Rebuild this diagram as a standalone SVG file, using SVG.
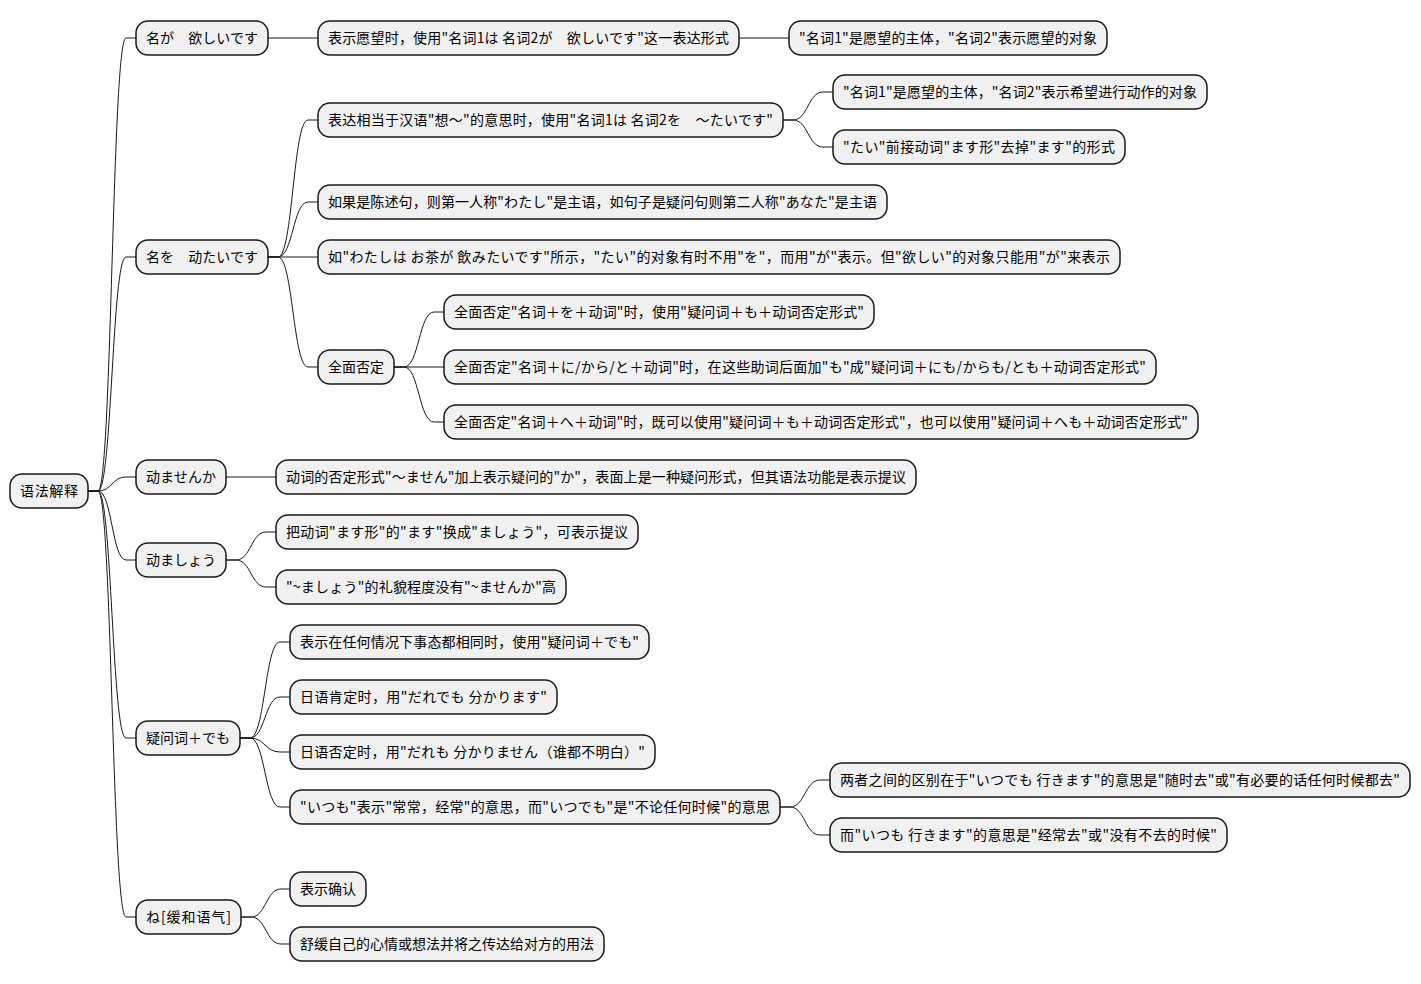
<svg xmlns="http://www.w3.org/2000/svg" width="1421" height="984" viewBox="0 0 1421 984">
<style>
rect.n{fill:#F1F1F1;stroke:#181818;stroke-width:1.5;}
text{font-family:"Noto Sans CJK SC","Microsoft YaHei",sans-serif;font-size:14px;fill:#000;}
#edges path{fill:none;stroke:#181818;stroke-width:1;}
</style>
<rect width="1421" height="984" fill="#FFFFFF"/>
<g id="edges">
<path d="M88 491 L98 491 C112 491 112 38 126 38 L136 38"/>
<path d="M88 491 L98 491 C112 491 112 257 126 257 L136 257"/>
<path d="M88 491 L98 491 C112 491 112 477 126 477 L136 477"/>
<path d="M88 491 L98 491 C112 491 112 560 126 560 L136 560"/>
<path d="M88 491 L98 491 C112 491 112 738 126 738 L136 738"/>
<path d="M88 491 L98 491 C112 491 112 917 126 917 L136 917"/>
<path d="M268 38 L318 38"/>
<path d="M739 38 L789 38"/>
<path d="M268 257 L278 257 C293 257 293 120 308 120 L318 120"/>
<path d="M268 257 L278 257 C293 257 293 202 308 202 L318 202"/>
<path d="M268 257 L318 257"/>
<path d="M268 257 L278 257 C293 257 293 367 308 367 L318 367"/>
<path d="M783 120 L793 120 C808 120 808 92 823 92 L833 92"/>
<path d="M783 120 L793 120 C808 120 808 147 823 147 L833 147"/>
<path d="M394 367 L404 367 C419 367 419 312 434 312 L444 312"/>
<path d="M394 367 L444 367"/>
<path d="M394 367 L404 367 C419 367 419 422 434 422 L444 422"/>
<path d="M226 477 L276 477"/>
<path d="M226 560 L236 560 C251 560 251 532 266 532 L276 532"/>
<path d="M226 560 L236 560 C251 560 251 587 266 587 L276 587"/>
<path d="M240 738 L250 738 C265 738 265 642 280 642 L290 642"/>
<path d="M240 738 L250 738 C265 738 265 697 280 697 L290 697"/>
<path d="M240 738 L250 738 C265 738 265 752 280 752 L290 752"/>
<path d="M240 738 L250 738 C265 738 265 807 280 807 L290 807"/>
<path d="M780 807 L790 807 C805 807 805 780 820 780 L830 780"/>
<path d="M780 807 L790 807 C805 807 805 835 820 835 L830 835"/>
<path d="M241 917 L251 917 C266 917 266 889 281 889 L290 889"/>
<path d="M241 917 L251 917 C266 917 266 944 281 944 L290 944"/>
</g>
<g id="root"><rect class="n" x="10" y="474" width="78" height="34" rx="12"/><text x="20" y="496" textLength="58" lengthAdjust="spacing">语法解释</text></g>
<g id="n1"><rect class="n" x="136" y="21" width="132" height="34" rx="12"/><text x="146" y="43" textLength="112" lengthAdjust="spacing">名が　欲しいです</text></g>
<g id="n1a"><rect class="n" x="318" y="21" width="421" height="34" rx="12"/><text x="328" y="43" textLength="401" lengthAdjust="spacing">表示愿望时，使用"名词1は 名词2が　欲しいです"这一表达形式</text></g>
<g id="n1a1"><rect class="n" x="789" y="21" width="318" height="34" rx="12"/><text x="799" y="43" textLength="298" lengthAdjust="spacing">"名词1"是愿望的主体，"名词2"表示愿望的对象</text></g>
<g id="n2"><rect class="n" x="136" y="240" width="132" height="34" rx="12"/><text x="146" y="262" textLength="112" lengthAdjust="spacing">名を　动たいです</text></g>
<g id="n2a"><rect class="n" x="318" y="103" width="465" height="34" rx="12"/><text x="328" y="125" textLength="445" lengthAdjust="spacing">表达相当于汉语"想～"的意思时，使用"名词1は 名词2を　～たいです"</text></g>
<g id="n2a1"><rect class="n" x="833" y="75" width="374" height="34" rx="12"/><text x="843" y="97" textLength="354" lengthAdjust="spacing">"名词1"是愿望的主体，"名词2"表示希望进行动作的对象</text></g>
<g id="n2a2"><rect class="n" x="833" y="130" width="292" height="34" rx="12"/><text x="843" y="152" textLength="272" lengthAdjust="spacing">"たい"前接动词"ます形"去掉"ます"的形式</text></g>
<g id="n2b"><rect class="n" x="318" y="185" width="569" height="34" rx="12"/><text x="328" y="207" textLength="549" lengthAdjust="spacing">如果是陈述句，则第一人称"わたし"是主语，如句子是疑问句则第二人称"あなた"是主语</text></g>
<g id="n2c"><rect class="n" x="318" y="240" width="802" height="34" rx="12"/><text x="328" y="262" textLength="782" lengthAdjust="spacing">如"わたしは お茶が 飲みたいです"所示，"たい"的对象有时不用"を"，而用"が"表示。但"欲しい"的对象只能用"が"来表示</text></g>
<g id="n2d"><rect class="n" x="318" y="350" width="76" height="34" rx="12"/><text x="328" y="372" textLength="56" lengthAdjust="spacing">全面否定</text></g>
<g id="n2d1"><rect class="n" x="444" y="295" width="430" height="34" rx="12"/><text x="454" y="317" textLength="410" lengthAdjust="spacing">全面否定"名词＋を＋动词"时，使用"疑问词＋も＋动词否定形式"</text></g>
<g id="n2d2"><rect class="n" x="444" y="350" width="712" height="34" rx="12"/><text x="454" y="372" textLength="692" lengthAdjust="spacing">全面否定"名词＋に/から/と＋动词"时，在这些助词后面加"も"成"疑问词＋にも/からも/とも＋动词否定形式"</text></g>
<g id="n2d3"><rect class="n" x="444" y="405" width="754" height="34" rx="12"/><text x="454" y="427" textLength="734" lengthAdjust="spacing">全面否定"名词＋へ＋动词"时，既可以使用"疑问词＋も＋动词否定形式"，也可以使用"疑问词＋へも＋动词否定形式"</text></g>
<g id="n3"><rect class="n" x="136" y="460" width="90" height="34" rx="12"/><text x="146" y="482" textLength="70" lengthAdjust="spacing">动ませんか</text></g>
<g id="n3a"><rect class="n" x="276" y="460" width="640" height="34" rx="12"/><text x="286" y="482" textLength="620" lengthAdjust="spacing">动词的否定形式"～ません"加上表示疑问的"か"，表面上是一种疑问形式，但其语法功能是表示提议</text></g>
<g id="n4"><rect class="n" x="136" y="543" width="90" height="34" rx="12"/><text x="146" y="565" textLength="70" lengthAdjust="spacing">动ましょう</text></g>
<g id="n4a"><rect class="n" x="276" y="515" width="362" height="34" rx="12"/><text x="286" y="537" textLength="342" lengthAdjust="spacing">把动词"ます形"的"ます"换成"ましょう"，可表示提议</text></g>
<g id="n4b"><rect class="n" x="276" y="570" width="290" height="34" rx="12"/><text x="286" y="592" textLength="270" lengthAdjust="spacing">"~ましょう"的礼貌程度没有"~ませんか"高</text></g>
<g id="n5"><rect class="n" x="136" y="721" width="104" height="34" rx="12"/><text x="146" y="743" textLength="84" lengthAdjust="spacing">疑问词＋でも</text></g>
<g id="n5a"><rect class="n" x="290" y="625" width="359" height="34" rx="12"/><text x="300" y="647" textLength="339" lengthAdjust="spacing">表示在任何情况下事态都相同时，使用"疑问词＋でも"</text></g>
<g id="n5b"><rect class="n" x="290" y="680" width="267" height="34" rx="12"/><text x="300" y="702" textLength="247" lengthAdjust="spacing">日语肯定时，用"だれでも 分かります"</text></g>
<g id="n5c"><rect class="n" x="290" y="735" width="365" height="34" rx="12"/><text x="300" y="757" textLength="345" lengthAdjust="spacing">日语否定时，用"だれも 分かりません（谁都不明白）"</text></g>
<g id="n5d"><rect class="n" x="290" y="790" width="490" height="34" rx="12"/><text x="300" y="812" textLength="470" lengthAdjust="spacing">"いつも"表示"常常，经常"的意思，而"いつでも"是"不论任何时候"的意思</text></g>
<g id="n5d1"><rect class="n" x="830" y="763" width="580" height="34" rx="12"/><text x="840" y="785" textLength="560" lengthAdjust="spacing">两者之间的区别在于"いつでも 行きます"的意思是"随时去"或"有必要的话任何时候都去"</text></g>
<g id="n5d2"><rect class="n" x="830" y="818" width="397" height="34" rx="12"/><text x="840" y="840" textLength="377" lengthAdjust="spacing">而"いつも 行きます"的意思是"经常去"或"没有不去的时候"</text></g>
<g id="n6"><rect class="n" x="136" y="900" width="105" height="34" rx="12"/><text x="146" y="922" textLength="85" lengthAdjust="spacing">ね[缓和语气]</text></g>
<g id="n6a"><rect class="n" x="290" y="872" width="76" height="34" rx="12"/><text x="300" y="894" textLength="56" lengthAdjust="spacing">表示确认</text></g>
<g id="n6b"><rect class="n" x="290" y="927" width="314" height="34" rx="12"/><text x="300" y="949" textLength="294" lengthAdjust="spacing">舒缓自己的心情或想法并将之传达给对方的用法</text></g>
</svg>
